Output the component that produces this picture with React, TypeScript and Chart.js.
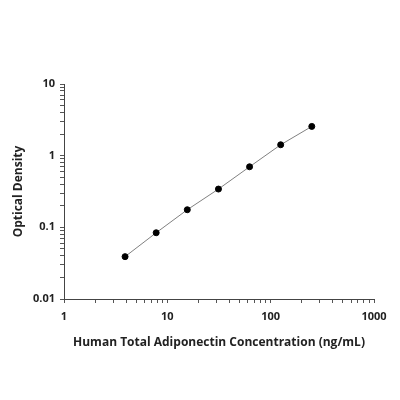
import { useEffect, useRef } from "react";
import { Chart, registerables } from "chart.js";

Chart.register(...registerables);

// standard curve values
const concentrations = [3.9, 7.8, 15.6, 31.25, 62.5, 125, 250];
const opticalDensity = [0.039, 0.084, 0.176, 0.342, 0.7, 1.42, 2.56];

const xMajorTicks = [1, 10, 100, 1000];
const yMajorTicks = [0.01, 0.1, 1, 10];
const minorSteps = [2, 3, 4, 5, 6, 7, 8, 9];

const xTitle = "Human Total Adiponectin Concentration (ng/mL)";
const yTitle = "Optical Density";

const FONT = "'Open Sans', 'DejaVu Sans', sans-serif";

function logTicks(majors: number[]) {
  const out: { value: number; major: boolean }[] = [];
  majors.forEach((m, i) => {
    out.push({ value: m, major: true });
    if (i < majors.length - 1) {
      minorSteps.forEach((s) => out.push({ value: m * s, major: false }));
    }
  });
  return out;
}

export default function App() {
  const canvasRef = useRef<HTMLCanvasElement>(null);
  const chartRef = useRef<Chart | null>(null);

  useEffect(() => {
    if (!canvasRef.current) return;
    const ctx = canvasRef.current.getContext("2d");
    if (!ctx) return;

    const points = concentrations.map((x, i) => ({ x, y: opticalDensity[i] }));

    chartRef.current = new Chart(ctx, {
      type: "scatter",
      data: {
        datasets: [
          {
            data: points,
            showLine: true,
            borderColor: "#808080",
            borderWidth: 1,
            backgroundColor: "#000",
            pointBackgroundColor: "#000",
            pointBorderColor: "#000",
            pointRadius: 3,
          },
        ],
      },
      options: {
        animation: false,
        responsive: true,
        maintainAspectRatio: false,
        layout: { padding: { top: 84, right: 26, left: 7, bottom: 40 } },
        plugins: {
          legend: { display: false },
          tooltip: { enabled: false },
        },
        scales: {
          x: {
            type: "logarithmic",
            min: 1,
            max: 1000,
            afterBuildTicks: (scale: any) => {
              scale.ticks = logTicks(xMajorTicks);
            },
            afterFit: (scale: any) => {
              scale.height = 61;
            },
            border: { color: "#444", width: 1 },
            grid: {
              drawOnChartArea: false,
              drawTicks: true,
              tickLength: 4,
              tickColor: "#555",
            },
            ticks: {
              autoSkip: false,
              maxRotation: 0,
              padding: 7,
              color: "#222",
              font: { family: FONT, size: 11, weight: "bold" },
              callback: (v: any) => (xMajorTicks.includes(Number(v)) ? String(v) : ""),
            },
            title: {
              display: true,
              text: xTitle,
              color: "#222",
              font: { family: FONT, size: 12, weight: "bold" },
              padding: { top: 4, bottom: 10 },
            },
          },
          y: {
            type: "logarithmic",
            min: 0.01,
            max: 10,
            afterBuildTicks: (scale: any) => {
              scale.ticks = logTicks(yMajorTicks);
            },
            afterFit: (scale: any) => {
              scale.width = 57;
            },
            border: { color: "#444", width: 1 },
            grid: {
              drawOnChartArea: false,
              drawTicks: true,
              tickLength: 4,
              tickColor: "#555",
            },
            ticks: {
              autoSkip: false,
              padding: 5,
              color: "#222",
              font: { family: FONT, size: 11, weight: "bold" },
              callback: (v: any) => {
                const n = Number(v);
                return yMajorTicks.some((m) => Math.abs(m - n) < 1e-9) ? String(n) : "";
              },
            },
            title: {
              display: true,
              text: yTitle,
              color: "#222",
              font: { family: FONT, size: 12, weight: "bold" },
              padding: { top: 4, bottom: 4 },
            },
          },
        },
      },
    });

    return () => {
      chartRef.current?.destroy();
      chartRef.current = null;
    };
  }, []);

  return (
    <div style={{ position: "fixed", left: 0, top: 0, width: 400, height: 400, background: "#fff" }}>
      <canvas ref={canvasRef} />
    </div>
  );
}
